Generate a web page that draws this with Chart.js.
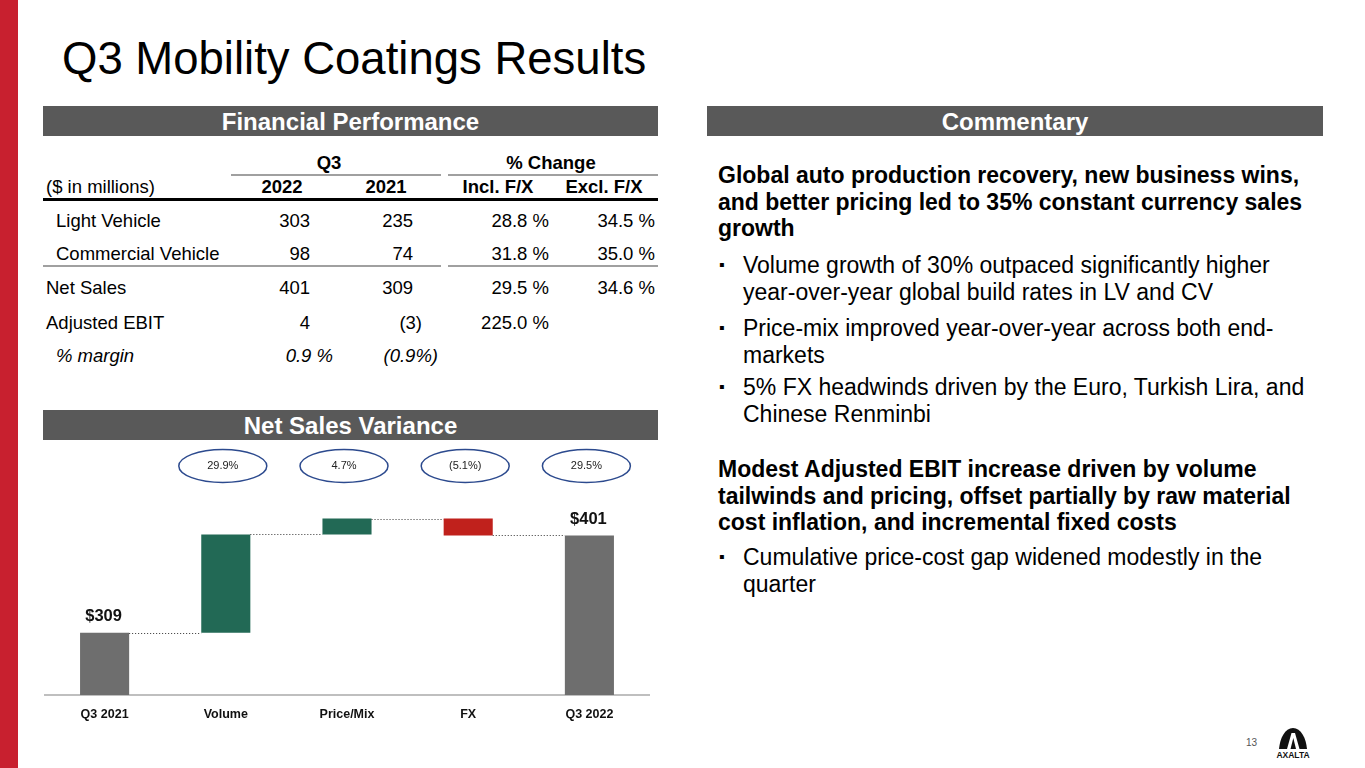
<!DOCTYPE html>
<html>
<head>
<meta charset="utf-8">
<title>Q3 Mobility Coatings Results</title>
<script src="https://cdn.jsdelivr.net/npm/chart.js"></script>
<style>
  html, body { margin: 0; padding: 0; }
  body { width: 1365px; height: 768px; position: relative; overflow: hidden; background: #fff;
         font-family: "Liberation Sans", Arial, sans-serif; color: #000; }
  .strip { position: absolute; left: 0; top: 0; width: 18px; height: 768px; background: #c8202f; }
  .title { position: absolute; left: 62px; top: 31px; font-size: 45.5px; line-height: 56px; white-space: nowrap; }
  .bar { position: absolute; height: 30px; background: #595959; color: #fff; font-weight: bold;
         font-size: 24px; line-height: 31px; text-align: center; }
  .cell { position: absolute; font-size: 18.5px; line-height: 20px; white-space: nowrap; }
  .b { font-weight: bold; }
  .i { font-style: italic; }
  .rule { position: absolute; }
  .para { position: absolute; font-size: 23px; line-height: 26.5px; white-space: nowrap; }
  .para.bold { left: 718px; font-weight: bold; }
  .para.bul { left: 743px; }
  .para.bul::before { content: "\25AA"; position: absolute; left: -24px; top: 0; font-size: 16px; }
  #wrap { position: absolute; left: 44px; top: 445px; width: 606px; height: 289px; }
  .pg { position: absolute; left: 1246px; top: 737px; font-size: 10px; color: #555; }
</style>
</head>
<body>
<div class="strip"></div>
<div class="title">Q3 Mobility Coatings Results</div>

<div class="bar" style="left:43px; top:106px; width:615px;">Financial Performance</div>
<div class="bar" style="left:707px; top:106px; width:616px;">Commentary</div>
<div class="bar" style="left:43px; top:410px; width:615px;">Net Sales Variance</div>

<div id="table"></div>

<div class="para bold" style="top:162px;">Global auto production recovery, new business wins,<br>and better pricing led to 35% constant currency sales<br>growth</div>
<div class="para bul" style="top:252px;">Volume growth of 30% outpaced significantly higher<br>year-over-year global build rates in LV and CV</div>
<div class="para bul" style="top:315px;">Price-mix improved year-over-year across both end-<br>markets</div>
<div class="para bul" style="top:374px;">5% FX headwinds driven by the Euro, Turkish Lira, and<br>Chinese Renminbi</div>
<div class="para bold" style="top:456px;">Modest Adjusted EBIT increase driven by volume<br>tailwinds and pricing, offset partially by raw material<br>cost inflation, and incremental fixed costs</div>
<div class="para bul" style="top:544px;">Cumulative price-cost gap widened modestly in the<br>quarter</div>

<div id="wrap"><canvas id="variance"></canvas></div>

<div class="pg">13</div>
<svg style="position:absolute; left:1270px; top:726px;" width="46" height="34" viewBox="0 0 46 34">
  <path d="M9 23 C10 12 15 2 23 2 C31 2 36 12 37 23 Z" fill="#111"/>
  <path d="M17 23 L21.5 7 L25 7 L29.5 23 L26 23 L23.3 12 L20.5 23 Z" fill="#fff"/>
  <text x="23" y="32" text-anchor="middle" font-family="Liberation Sans, Arial" font-weight="bold" font-size="8.5" fill="#111">AXALTA</text>
</svg>

<script>
// financial performance table
const rowLabels = ['Light Vehicle', 'Commercial Vehicle', 'Net Sales', 'Adjusted EBIT', '% margin'];
const sales2022 = ['303', '98', '401', '4', '0.9 %'];
const sales2021 = ['235', '74', '309', '(3)', '(0.9%)'];
const inclFx = ['28.8 %', '31.8 %', '29.5 %', '225.0 %', ''];
const exclFx = ['34.5 %', '35.0 %', '34.6 %', '', ''];

// net sales variance (waterfall)
const categories = ['Q3 2021', 'Volume', 'Price/Mix', 'FX', 'Q3 2022'];
const amounts = [309, 93, 15, -16, 401];
const isTotal = [true, false, false, false, true];
const valueLabels = ['$309', '', '', '', '$401'];
const changeLabels = ['', '29.9%', '4.7%', '(5.1%)', '29.5%'];

const table = document.getElementById('table');
function cell(text, x, y, align, cls) {
  const d = document.createElement('div');
  d.className = 'cell ' + (cls || '');
  d.textContent = text;
  d.style.top = (y - 10) + 'px';
  if (align === 'right') { d.style.right = (1365 - x) + 'px'; }
  else if (align === 'center') { d.style.left = (x - 100) + 'px'; d.style.width = '200px'; d.style.textAlign = 'center'; }
  else { d.style.left = x + 'px'; }
  table.appendChild(d);
}
function rule(x1, x2, y, h, color) {
  const d = document.createElement('div');
  d.className = 'rule';
  d.style.left = x1 + 'px'; d.style.width = (x2 - x1) + 'px';
  d.style.top = y + 'px'; d.style.height = h + 'px'; d.style.background = color;
  table.appendChild(d);
}

cell('Q3', 329, 163, 'center', 'b');
cell('% Change', 551, 163, 'center', 'b');
rule(231, 441, 174, 2, '#a0a0a0');
rule(448, 658, 174, 2, '#a0a0a0');
cell('($ in millions)', 46, 187, 'left');
cell('2022', 282, 187, 'center', 'b');
cell('2021', 386, 187, 'center', 'b');
cell('Incl. F/X', 498, 187, 'center', 'b');
cell('Excl. F/X', 604, 187, 'center', 'b');
rule(43, 658, 198, 3, '#000');
rule(43, 441, 265, 2, '#a0a0a0');
rule(448, 658, 265, 2, '#a0a0a0');

const rowY = [221, 254, 288, 323, 356];
const indent = [56, 56, 46, 46, 56];
rowLabels.forEach(function (lab, r) {
  const it = r === 4 ? 'i' : '';
  cell(lab, indent[r], rowY[r], 'left', it);
  const hang2022 = sales2022[r].indexOf('%') >= 0 ? 23 : 0;
  cell(sales2022[r], 310 + hang2022, rowY[r], 'right', it);
  let hang2021 = 0;
  if (sales2021[r].indexOf('%') >= 0) hang2021 = 25;
  else if (sales2021[r].indexOf(')') >= 0) hang2021 = 9;
  cell(sales2021[r], 413 + hang2021, rowY[r], 'right', it);
  if (inclFx[r]) cell(inclFx[r], 549, rowY[r], 'right');
  if (exclFx[r]) cell(exclFx[r], 655, rowY[r], 'right');
});

// floating ranges and running levels for the waterfall
const ranges = [];
const levels = [];
let run = 0;
amounts.forEach(function (v, i) {
  if (isTotal[i]) { ranges.push([250, v]); run = v; }
  else { ranges.push([run, run + v]); run += v; }
  levels.push(run);
});
const colors = amounts.map(function (v, i) {
  if (isTotal[i]) return '#6e6e6e';
  return v >= 0 ? '#226955' : '#c0211c';
});

const extras = {
  id: 'extras',
  afterDatasetsDraw(chart) {
    const ctx = chart.ctx;
    const bars = chart.getDatasetMeta(0).data;
    const y = chart.scales.y;
    ctx.save();
    // dotted connectors
    ctx.strokeStyle = '#333';
    ctx.lineWidth = 1;
    ctx.setLineDash([1, 2]);
    for (let i = 0; i < bars.length - 1; i++) {
      const py = Math.round(y.getPixelForValue(levels[i])) + 0.5;
      ctx.beginPath();
      ctx.moveTo(bars[i].x + bars[i].width / 2, py);
      ctx.lineTo(bars[i + 1].x - bars[i + 1].width / 2, py);
      ctx.stroke();
    }
    ctx.setLineDash([]);
    // value labels
    ctx.fillStyle = '#111';
    ctx.textAlign = 'center';
    ctx.textBaseline = 'middle';
    ctx.font = 'bold 16.5px "Liberation Sans", Arial';
    bars.forEach(function (b, i) {
      if (valueLabels[i]) ctx.fillText(valueLabels[i], b.x - 1, y.getPixelForValue(amounts[i]) - 16);
    });
    // change ellipses
    const ey = chart.chartArea.top - 24;
    ctx.font = '11px "Liberation Sans", Arial';
    bars.forEach(function (b, i) {
      if (!changeLabels[i]) return;
      ctx.beginPath();
      ctx.ellipse(b.x - 3, ey, 44, 16.5, 0, 0, Math.PI * 2);
      ctx.strokeStyle = '#2c4a8e';
      ctx.lineWidth = 1.5;
      ctx.stroke();
      ctx.fillStyle = '#222';
      ctx.fillText(changeLabels[i], b.x - 3, ey);
    });
    ctx.restore();
  }
};

new Chart('variance', {
  type: 'bar',
  data: {
    labels: categories,
    datasets: [{
      data: ranges,
      backgroundColor: colors,
      borderWidth: 0,
      barPercentage: 0.405,
      categoryPercentage: 1
    }]
  },
  options: {
    responsive: true,
    maintainAspectRatio: false,
    animation: false,
    layout: { padding: { top: 45, left: 0, right: 0, bottom: 0 } },
    plugins: { legend: { display: false }, tooltip: { enabled: false } },
    scales: {
      x: {
        grid: { display: true, color: 'transparent', drawTicks: false },
        border: { display: true, color: '#bfbfbf', width: 2 },
        ticks: { color: '#111', padding: 12, font: { family: '"Liberation Sans", Arial', size: 12.5, weight: 'bold' } }
      },
      y: { display: false, min: 250, max: 444 }
    }
  },
  plugins: [extras]
});
</script>
</body>
</html>
